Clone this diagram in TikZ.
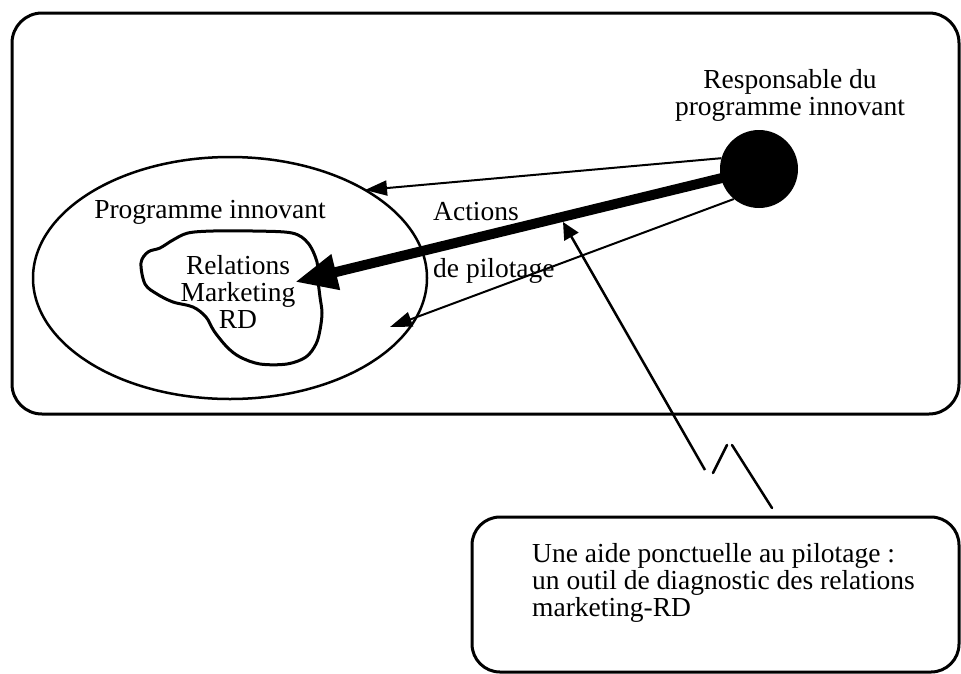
\documentclass[tikz,border=0pt]{standalone}
\usepackage{fontspec}
\setmainfont{Liberation Serif}
\usetikzlibrary{arrows.meta,shapes.geometric}
\begin{document}
\begin{tikzpicture}[x=1pt,y=-1pt,
  txt/.style={font=\fontsize{27.5}{27}\selectfont, inner sep=0pt},
  frame/.style={draw, line width=3pt, rounded corners=30pt},
  thinarrow/.style={line width=2pt, -{Triangle[length=22pt,width=15pt]}},
  thickarrow/.style={line width=10pt, -{Triangle[length=42pt,width=34pt]}},
  pointer/.style={line width=2.5pt, -{Triangle[length=17pt,width=16pt]}},
  zig/.style={line width=2.5pt, line cap=round},
]
\useasboundingbox (0,0) rectangle (961,673);
% frames
\draw[frame] (12,13) rectangle (959,414);
\draw[frame, rounded corners=28pt] (472,517) rectangle (959,672);
% programme ellipse
\node[draw, ellipse, line width=2.5pt, minimum width=394pt, minimum height=242pt, inner sep=0pt] (prog) at (230,278) {};
% blob
\draw[line width=3pt, smooth cycle, tension=0.55] plot coordinates {
  (141,263) (148,252) (160,248) (173,240) (188,233) (213,231) (253,231)
  (292,233) (308,243) (317,262) (318,280) (320,297) (322,313) (320,330)
  (316,344) (306,357) (287,364) (260,364) (240,357) (227,347) (214,331)
  (206,317) (193,307) (173,302) (157,294) (145,284)};
% responsable circle
\node[circle, fill=black, minimum size=78pt, inner sep=0pt] (resp) at (759,169) {};
% texts
\node[txt, align=center, anchor=north] (resptxt) at (790,69) {Responsable du\\programme innovant};
\node[txt, anchor=base] (progtxt) at (210,218) {Programme innovant};
\node[txt, align=center] (rel) at (238,292) {Relations\\Marketing\\RD};
\node[txt, anchor=base west] (act) at (433,220) {Actions};
\node[txt, anchor=base west] (pil) at (433,277) {de pilotage};
\node[txt, align=left, anchor=north west] (aide) at (532,543) {Une aide ponctuelle au pilotage :\\un outil de diagnostic des relations\\marketing-RD};
% coordinates
\coordinate (tipA) at (365,190);
\coordinate (tipB) at (295,282);
\coordinate (tipC) at (390,327);
\coordinate (tipD) at (563,222);
\coordinate (p0) at (705,470);
\coordinate (z1) at (713,473);
\coordinate (z2) at (727,445);
\coordinate (z3) at (732,445);
\coordinate (z4) at (772,508);
% arrows
\draw[thinarrow] (resp.164) -- (tipA);
\draw[thickarrow] (resp.center) -- (tipB);
\draw[thinarrow] (resp.230) -- (tipC);
\draw[pointer] (p0) -- (tipD);
\draw[zig] (z1) -- (z2);
\draw[zig] (z3) -- (z4);
\end{tikzpicture}
\end{document}
